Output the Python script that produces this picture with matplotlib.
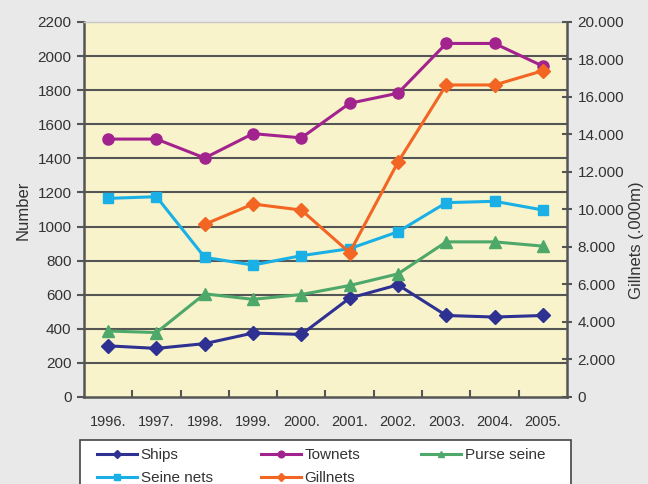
import matplotlib
matplotlib.use("Agg")
import matplotlib.pyplot as plt
from matplotlib.ticker import FuncFormatter
from matplotlib.patches import Rectangle
import numpy as np

plt.rcParams['font.family'] = ['Liberation Sans', 'DejaVu Sans']

years = ["1996.", "1997.", "1998.", "1999.", "2000.", "2001.", "2002.", "2003.", "2004.", "2005."]
ships = [300, 285, 313, 375, 367, 580, 658, 478, 469, 478]
townets = [1513, 1513, 1402, 1545, 1520, 1723, 1782, 2074, 2074, 1941]
purse_seine = [387, 378, 605, 573, 601, 654, 722, 910, 910, 885]
seine_nets = [1165, 1175, 819, 774, 829, 870, 969, 1140, 1148, 1097]
# Gillnets length in thousands of metres (right axis); no data before 1998
gillnet_years = ["1998.", "1999.", "2000.", "2001.", "2002.", "2003.", "2004.", "2005."]
gillnets = [9210, 10290, 9970, 7700, 12520, 16640, 16640, 17400]

c_ships = "#2e3192"
c_town = "#a3238e"
c_purse = "#4ea86a"
c_seine = "#1ab0e6"
c_gill = "#f26522"
txt = "#333333"
axis_c = "#555555"

fig = plt.figure(figsize=(6.48, 4.84), dpi=100, facecolor="#e9e9ea")
ax = fig.add_axes([0.1296, 0.1798, 0.7454, 0.7748])
ax.set_facecolor("#f8f3cb")

x = np.arange(len(years))
xg = np.array([years.index(y) for y in gillnet_years])

lw = 2.2
l1, = ax.plot(x, ships, color=c_ships, lw=lw, marker="D", ms=7, label="Ships")
l3, = ax.plot(x, townets, color=c_town, lw=lw, marker="o", ms=8, label="Townets")
l5, = ax.plot(x, purse_seine, color=c_purse, lw=lw, marker="^", ms=8, label="Purse seine")
l2, = ax.plot(x, seine_nets, color=c_seine, lw=lw, marker="s", ms=6.5, label="Seine nets")

ax.set_xlim(-0.5, len(years) - 0.5)
ax.set_ylim(0, 2200)
ax.set_yticks(np.arange(0, 2201, 200))
ax.set_xticks(x)
ax.set_xticklabels(years)
ax.set_xticks(np.arange(0.5, len(years) - 0.5, 1), minor=True)
ax.tick_params(axis="x", which="major", length=0, pad=13, labelsize=10.5, colors=txt)
ax.tick_params(axis="x", which="minor", direction="in", length=5, width=1.5, color=axis_c)
ax.tick_params(axis="y", direction="out", length=5, width=1.5, color=axis_c,
               labelsize=11, labelcolor=txt, pad=4)
for y in range(200, 2001, 200):
    ax.axhline(y, color=axis_c, lw=1.5, zorder=0.5)
for side in ("left", "bottom"):
    ax.spines[side].set_color(axis_c)
    ax.spines[side].set_linewidth(1.8)
ax.spines["top"].set_color("#c8c8c8")
ax.spines["top"].set_linewidth(1)
ax.spines["right"].set_visible(False)

ax2 = ax.twinx()
l4, = ax2.plot(xg, gillnets, color=c_gill, lw=lw, marker="D", ms=7, label="Gillnets")
ax2.set_ylim(0, 20000)
ax2.set_yticks(np.arange(0, 20001, 2000))
ax2.yaxis.set_major_formatter(FuncFormatter(
    lambda v, p: "0" if v == 0 else f"{int(v/1000)}.000"))
ax2.tick_params(axis="y", direction="inout", length=7, width=1.5, color=axis_c,
                labelsize=11, labelcolor=txt, pad=4)
ax2.spines["right"].set_color(axis_c)
ax2.spines["right"].set_linewidth(1.8)
for side in ("left", "bottom", "top"):
    ax2.spines[side].set_visible(False)

# axis titles
fig.text(23 / 648, 1 - 210 / 484, "Number", rotation=90, ha="center", va="center",
         fontsize=12, color=txt)
fig.text(636 / 648, 1 - 240 / 484, "Gillnets (.000m)", rotation=90, ha="center",
         va="center", fontsize=12, color=txt)

# legend box below the plot, three fixed-width columns
fig.patches.append(Rectangle((80 / 648, -0.05), 491 / 648, 0.05 + 1 - 440 / 484,
                             transform=fig.transFigure, facecolor="white",
                             edgecolor="#444444", lw=1.2, zorder=1))
columns = [([l1, l2], 97), ([l3, l4], 261), ([l5], 421)]
for handles, px in columns:
    lg = fig.legend(handles=handles, loc="upper left",
                    bbox_to_anchor=(px / 648, 1 - 448 / 484),
                    frameon=False, fontsize=11, handlelength=2.65,
                    handletextpad=0.2, labelspacing=0.62, borderpad=0,
                    borderaxespad=0, markerscale=0.6)
    lg.set_zorder(2)
    for t in lg.get_texts():
        t.set_color(txt)

fig.savefig("out.png", dpi=100, facecolor=fig.get_facecolor())
